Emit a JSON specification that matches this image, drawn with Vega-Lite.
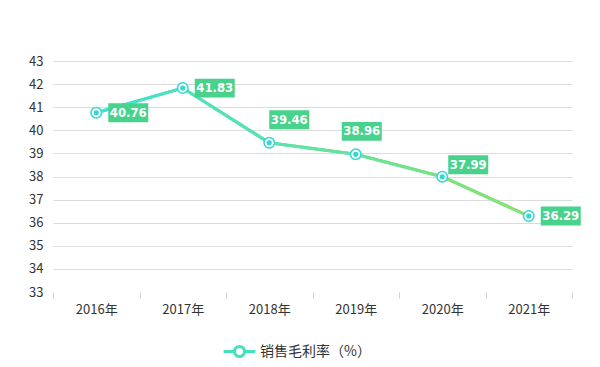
{
  "$schema": "https://vega.github.io/schema/vega-lite/v6.json",
  "width": 519,
  "height": 231,
  "autosize": {"type": "none"},
  "padding": {"left": 53, "top": 61, "right": 28, "bottom": 75},
  "background": "white",
  "config": {
    "view": {"stroke": null},
    "font": "Noto Sans CJK SC"
  },
  "data": {
    "values": [
      {"year": "2016年", "value": 40.76, "series": "销售毛利率（%）", "pos": "right"},
      {"year": "2017年", "value": 41.83, "series": "销售毛利率（%）", "pos": "right"},
      {"year": "2018年", "value": 39.46, "series": "销售毛利率（%）", "pos": "top1"},
      {"year": "2019年", "value": 38.96, "series": "销售毛利率（%）", "pos": "top2"},
      {"year": "2020年", "value": 37.99, "series": "销售毛利率（%）", "pos": "top3"},
      {"year": "2021年", "value": 36.29, "series": "销售毛利率（%）", "pos": "right"}
    ]
  },
  "encoding": {
    "x": {
      "field": "year", "type": "ordinal", "sort": null,
      "scale": {"type": "band", "paddingInner": 0, "paddingOuter": 0},
      "axis": {
        "title": null, "labelAngle": 0, "domain": false, "tickBand": "extent",
        "ticks": true, "tickColor": "#d0d0d0", "tickSize": 6, "tickOffset": 0,
        "labelFontSize": 13, "labelColor": "#333333", "labelPadding": 5,
        "labelFont": "Noto Sans CJK SC", "grid": false
      }
    },
    "y": {
      "field": "value", "type": "quantitative",
      "scale": {"domain": [33, 43], "nice": false, "zero": false},
      "axis": {
        "title": null, "values": [33, 34, 35, 36, 37, 38, 39, 40, 41, 42, 43],
        "domain": false, "ticks": false, "labelPadding": 10,
        "labelFontSize": 13, "labelColor": "#333333", "labelFont": "Noto Sans CJK SC",
        "gridColor": "#dcdcdc", "gridWidth": 1,
        "gridOpacity": {"condition": {"test": "datum.value == 33", "value": 0}, "value": 1}
      }
    }
  },
  "layer": [
    {
      "mark": {"type": "line", "strokeWidth": 3},
      "encoding": {
        "color": {
          "field": "series", "type": "nominal",
          "scale": {"range": ["#45e0c4"]},
          "legend": {
            "title": null, "orient": "none", "legendX": 169, "legendY": 273,
            "symbolType": "M-1,0H-0.32M0.32,0H1M0.32,0A0.32,0.32 0 1,1 -0.32,0A0.32,0.32 0 1,1 0.32,0Z",
            "symbolSize": 1000, "symbolStrokeWidth": 3, "symbolFillColor": "white",
            "labelFontSize": 14, "labelColor": "#333333", "labelFont": "Noto Sans CJK SC",
            "labelOffset": 3,
            "encode": {
              "symbols": {
                "enter": {"stroke": {"value": {"gradient": "linear", "x1": 0, "x2": 1, "y1": 0, "y2": 0,
                  "stops": [{"offset": 0, "color": "#3de2d4"}, {"offset": 1, "color": "#8fe168"}]}}},
                "update": {"stroke": {"value": {"gradient": "linear", "x1": 0, "x2": 1, "y1": 0, "y2": 0,
                  "stops": [{"offset": 0, "color": "#3de2d4"}, {"offset": 1, "color": "#8fe168"}]}}}
              }
            }
          }
        }
      }
    },
    {
      "mark": {
        "type": "line", "strokeWidth": 3,
        "color": {"gradient": "linear", "x1": 0, "x2": 1, "y1": 0, "y2": 0,
          "stops": [{"offset": 0, "color": "#3de2d4"}, {"offset": 1, "color": "#8fe168"}]}
      }
    },
    {
      "mark": {"type": "point", "shape": "circle", "filled": true, "fill": "white", "stroke": "#2fd8d0", "strokeWidth": 1.5, "size": 110, "opacity": 1}
    },
    {
      "mark": {"type": "point", "shape": "circle", "filled": true, "color": "#2fd8d0", "size": 26, "opacity": 1}
    },
    {
      "transform": [{"filter": "datum.pos == 'right'"}],
      "layer": [
        {"mark": {"type": "point", "shape": "M-1,-0.47H1V0.47H-1Z", "filled": true, "color": "#48d28c", "opacity": 1, "size": 1600, "xOffset": 32, "yOffset": 0}},
        {"mark": {"type": "text", "font": "DejaVu Sans Condensed", "fontWeight": "bold", "fontSize": 13, "color": "white", "dx": 32, "dy": 0, "baseline": "middle"},
         "encoding": {"text": {"field": "value", "type": "quantitative", "format": ".2f"}}}
      ]
    },
    {
      "transform": [{"filter": "datum.pos == 'top1'"}],
      "layer": [
        {"mark": {"type": "point", "shape": "M-1,-0.47H1V0.47H-1Z", "filled": true, "color": "#48d28c", "opacity": 1, "size": 1600, "xOffset": 20, "yOffset": -23}},
        {"mark": {"type": "text", "font": "DejaVu Sans Condensed", "fontWeight": "bold", "fontSize": 13, "color": "white", "dx": 20, "dy": -23, "baseline": "middle"},
         "encoding": {"text": {"field": "value", "type": "quantitative", "format": ".2f"}}}
      ]
    },
    {
      "transform": [{"filter": "datum.pos == 'top2'"}],
      "layer": [
        {"mark": {"type": "point", "shape": "M-1,-0.47H1V0.47H-1Z", "filled": true, "color": "#48d28c", "opacity": 1, "size": 1600, "xOffset": 6, "yOffset": -23}},
        {"mark": {"type": "text", "font": "DejaVu Sans Condensed", "fontWeight": "bold", "fontSize": 13, "color": "white", "dx": 6, "dy": -23, "baseline": "middle"},
         "encoding": {"text": {"field": "value", "type": "quantitative", "format": ".2f"}}}
      ]
    },
    {
      "transform": [{"filter": "datum.pos == 'top3'"}],
      "layer": [
        {"mark": {"type": "point", "shape": "M-1,-0.47H1V0.47H-1Z", "filled": true, "color": "#48d28c", "opacity": 1, "size": 1600, "xOffset": 26, "yOffset": -12}},
        {"mark": {"type": "text", "font": "DejaVu Sans Condensed", "fontWeight": "bold", "fontSize": 13, "color": "white", "dx": 26, "dy": -12, "baseline": "middle"},
         "encoding": {"text": {"field": "value", "type": "quantitative", "format": ".2f"}}}
      ]
    }
  ]
}
